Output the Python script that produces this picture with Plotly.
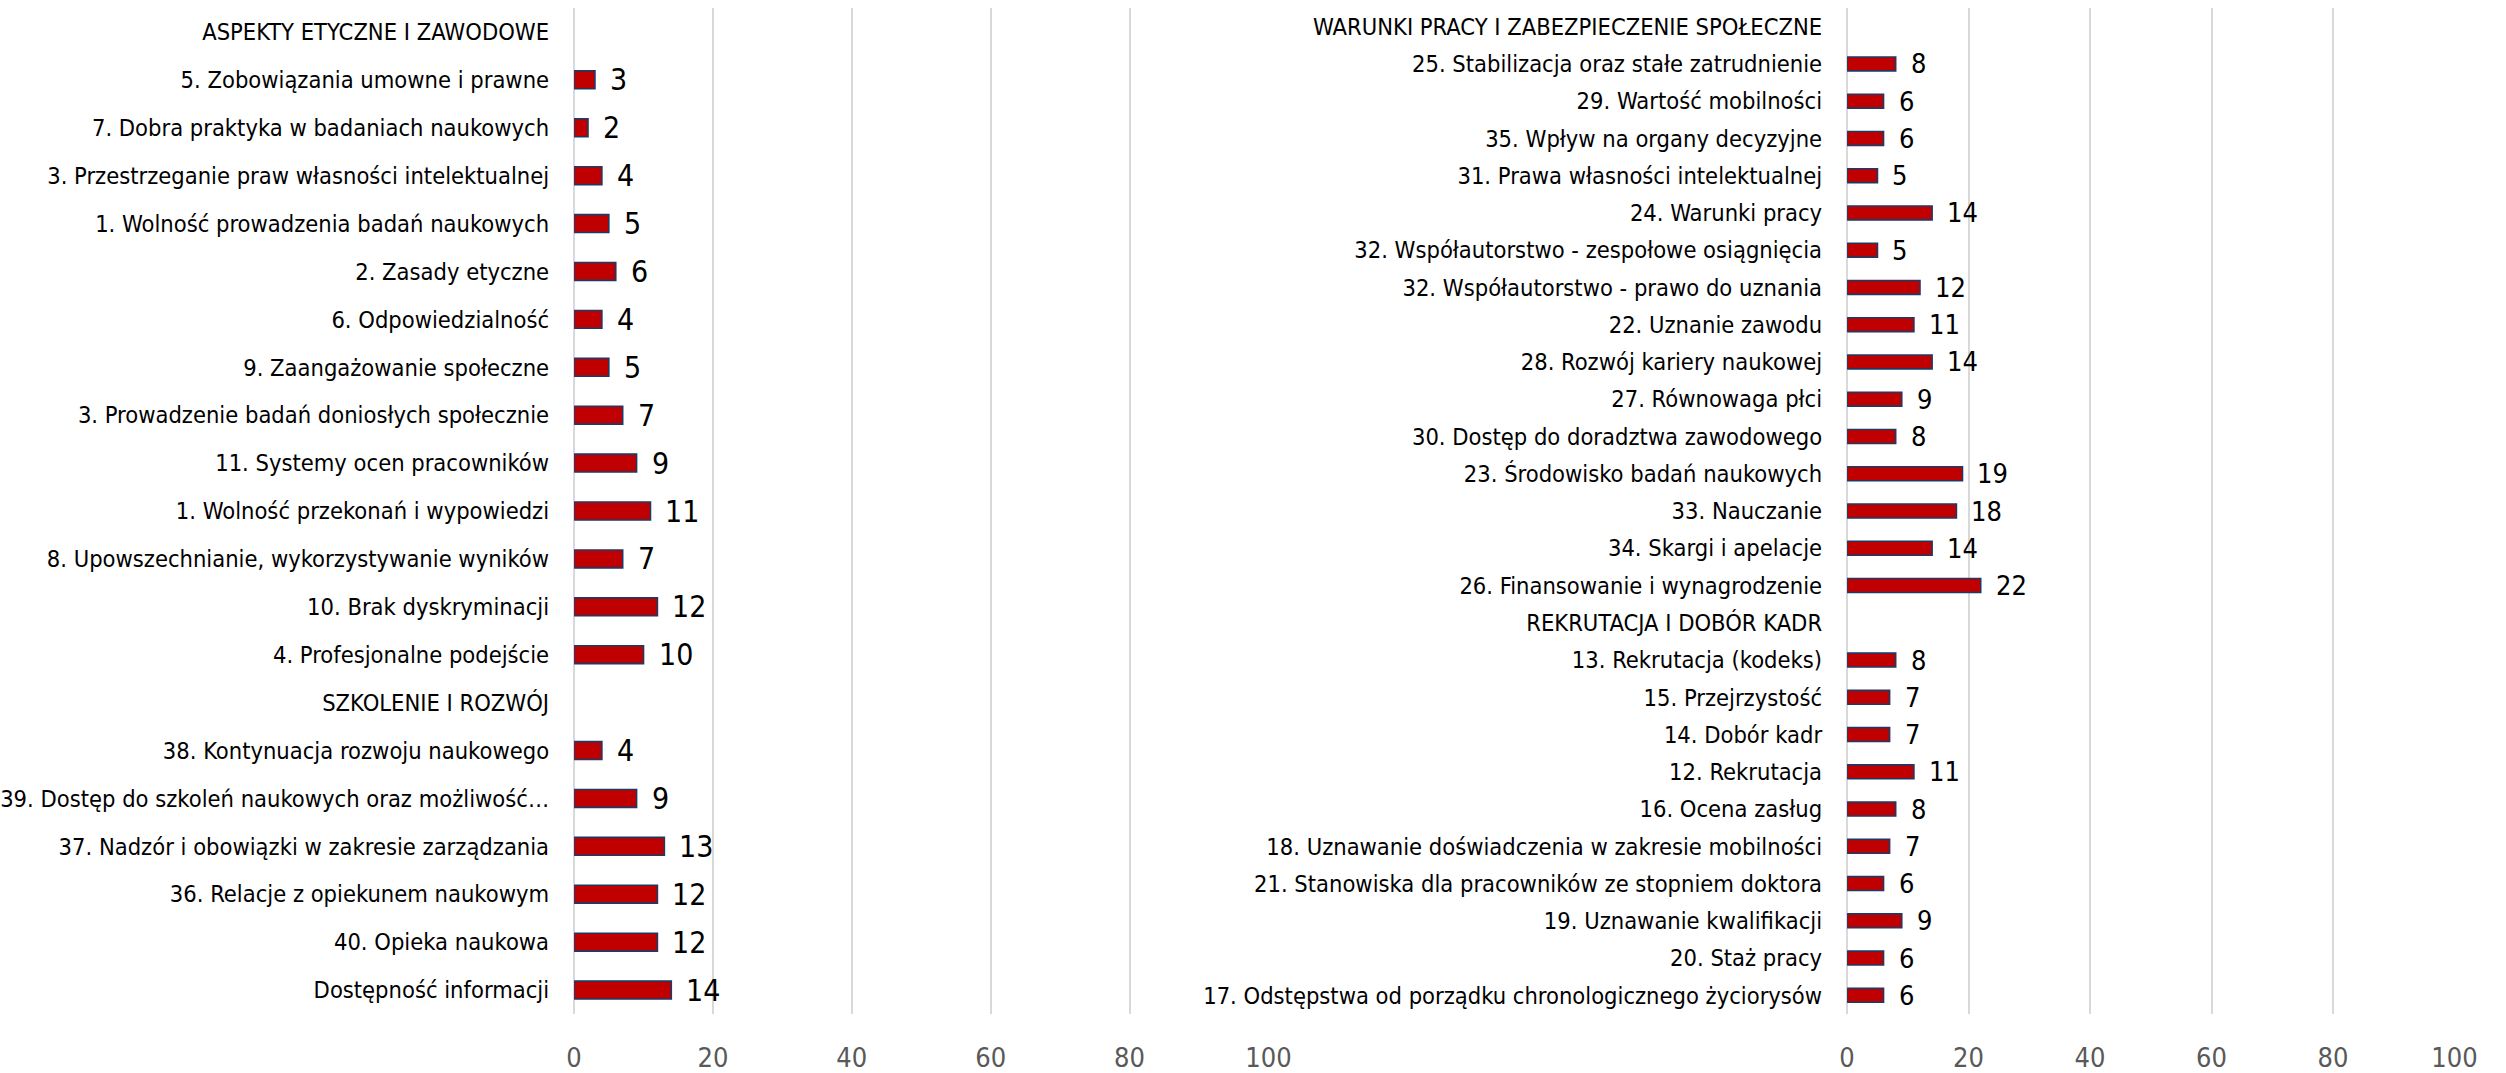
import plotly.graph_objects as go

# ---- data: left panel (top to bottom); None marks a section header row ----
left_labels = [
    "ASPEKTY ETYCZNE I ZAWODOWE",
    "5. Zobowiązania umowne i prawne",
    "7. Dobra praktyka w badaniach naukowych",
    "3. Przestrzeganie praw własności intelektualnej",
    "1. Wolność prowadzenia badań naukowych",
    "2. Zasady etyczne",
    "6. Odpowiedzialność",
    "9. Zaangażowanie społeczne",
    "3. Prowadzenie badań doniosłych społecznie",
    "11. Systemy ocen pracowników",
    "1. Wolność przekonań i wypowiedzi",
    "8. Upowszechnianie, wykorzystywanie wyników",
    "10. Brak dyskryminacji",
    "4. Profesjonalne podejście",
    "SZKOLENIE I ROZWÓJ",
    "38. Kontynuacja rozwoju naukowego",
    "39. Dostęp do szkoleń naukowych oraz możliwość…",
    "37. Nadzór i obowiązki w zakresie zarządzania",
    "36. Relacje z opiekunem naukowym",
    "40. Opieka naukowa",
    "Dostępność informacji",
]
left_values = [None, 3, 2, 4, 5, 6, 4, 5, 7, 9, 11, 7, 12, 10,
               None, 4, 9, 13, 12, 12, 14]

# ---- data: right panel ----
right_labels = [
    "WARUNKI PRACY I ZABEZPIECZENIE SPOŁECZNE",
    "25. Stabilizacja oraz stałe zatrudnienie",
    "29. Wartość mobilności",
    "35. Wpływ na organy decyzyjne",
    "31. Prawa własności intelektualnej",
    "24. Warunki pracy",
    "32. Współautorstwo - zespołowe osiągnięcia",
    "32. Współautorstwo - prawo do uznania",
    "22. Uznanie zawodu",
    "28. Rozwój kariery naukowej",
    "27. Równowaga płci",
    "30. Dostęp do doradztwa zawodowego",
    "23. Środowisko badań naukowych",
    "33. Nauczanie",
    "34. Skargi i apelacje",
    "26. Finansowanie i wynagrodzenie",
    "REKRUTACJA I DOBÓR KADR",
    "13. Rekrutacja (kodeks)",
    "15. Przejrzystość",
    "14. Dobór kadr",
    "12. Rekrutacja",
    "16. Ocena zasług",
    "18. Uznawanie doświadczenia w zakresie mobilności",
    "21. Stanowiska dla pracowników ze stopniem doktora",
    "19. Uznawanie kwalifikacji",
    "20. Staż pracy",
    "17. Odstępstwa od porządku chronologicznego życiorysów",
]
right_values = [None, 8, 6, 6, 5, 14, 5, 12, 11, 14, 9, 8, 19, 18, 14, 22,
                None, 8, 7, 7, 11, 8, 7, 6, 9, 6, 6]

x_ticks = [0, 20, 40, 60, 80, 100]

FONT = "DejaVu Sans Condensed, Liberation Sans, sans-serif"
BAR_FILL = "#C00000"
BAR_EDGE = "#203864"
GRID = "#D9D9D9"

W, H = 2506, 1073

fig = go.Figure()

panels = [
    (left_labels, left_values, "x", "y", 30),
    (right_labels, right_values, "x2", "y2", 27),
]

for labels, values, xa, ya, vsize in panels:
    fig.add_trace(go.Bar(
        y=labels, x=values, orientation="h",
        xaxis=xa, yaxis=ya,
        marker=dict(color=BAR_FILL, line=dict(color=BAR_EDGE, width=1.6)),
        hoverinfo="skip", showlegend=False,
    ))
    # value labels just to the right of each bar end
    for lab, v in zip(labels, values):
        if v is None:
            continue
        fig.add_annotation(
            x=v, y=lab, xref=xa, yref=ya, text=str(v),
            showarrow=False, xanchor="left", yanchor="middle", xshift=13,
            font=dict(family=FONT, size=vsize, color="#000000"),
        )

xaxis_common = dict(
    range=[0, 100], tickvals=x_ticks, showgrid=True, gridcolor=GRID,
    gridwidth=2, zeroline=True, zerolinecolor=GRID, zerolinewidth=2,
    showline=False, ticks="", ticklabelstandoff=25,
    tickfont=dict(family=FONT, size=27, color="#595959"), fixedrange=True,
)
yaxis_common = dict(
    type="category", showgrid=False, zeroline=False, showline=False,
    ticks="", ticklabelstandoff=24,
    tickfont=dict(family=FONT, size=23.5, color="#000000"), fixedrange=True,
)

fig.update_layout(
    width=W, height=H,
    margin=dict(l=0, r=0, t=8, b=54),
    paper_bgcolor="white", plot_bgcolor="white",
    bargap=0.627,
    xaxis=dict(domain=[567.7 / W, 1272.7 / W], anchor="y", **xaxis_common),
    yaxis=dict(domain=[0, 1], anchor="x", autorange=False,
               range=[len(left_labels) - 0.5, -0.5], **yaxis_common),
    xaxis2=dict(domain=[1860.3 / W, 2477 / W], anchor="y2", **xaxis_common),
    yaxis2=dict(domain=[0, 1], anchor="x2", autorange=False,
                range=[len(right_labels) - 0.5, -0.5], **yaxis_common),
)

fig.write_html(
    "out.html",
    config={"displayModeBar": False},
    post_script="document.body.style.margin='0';",
)
